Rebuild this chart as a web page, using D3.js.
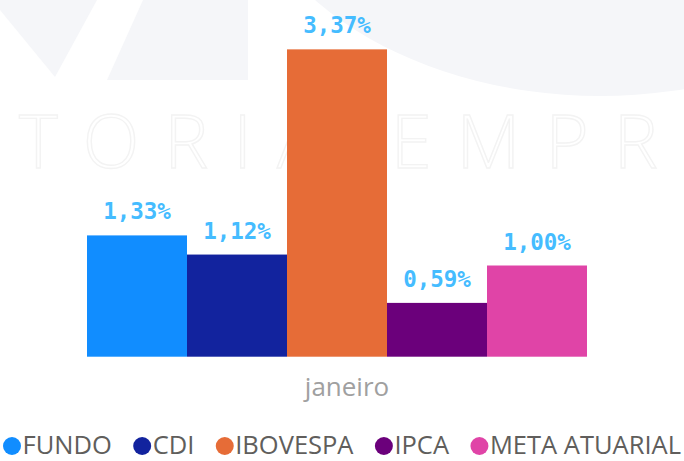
<!DOCTYPE html>
<html>
<head>
<meta charset="utf-8">
<script src="https://cdn.jsdelivr.net/npm/d3@7"></script>
<style>
  html, body { margin: 0; padding: 0; background: #ffffff; }
  svg { display: block; }
</style>
</head>
<body>
<svg id="chart" width="684" height="461"></svg>
<script>
// ---- data ----
const categories = ["janeiro"];
const seriesNames = ["FUNDO", "CDI", "IBOVESPA", "IPCA", "META ATUARIAL"];
const seriesValues = [1.33, 1.12, 3.37, 0.59, 1.00]; // % in janeiro
const seriesColors = ["#118DFF", "#12239E", "#E66C37", "#6B007B", "#E044A7"];

const W = 684, H = 461;
const svg = d3.select("#chart");

// ---- faint watermark background ----
const wm = svg.append("g").attr("class", "watermark");
const wmFill = "#f5f6f9";
const poly = d3.line();
wm.append("path").attr("d", poly([[0,0],[97,0],[55,77],[0,10]]) + "Z").attr("fill", wmFill);
wm.append("path").attr("d", poly([[143,0],[248,0],[248,80],[107,80]]) + "Z").attr("fill", wmFill);
wm.append("ellipse").attr("cx", 600).attr("cy", -160).attr("rx", 365).attr("ry", 256).attr("fill", wmFill);
wm.append("text")
  .attr("x", 19).attr("y", 168)
  .attr("font-family", "Open Sans, sans-serif")
  .attr("font-weight", 300)
  .attr("font-size", 74)
  .attr("letter-spacing", 25)
  .attr("fill", "none")
  .attr("stroke", "#f3f3f3")
  .attr("stroke-width", 1.4)
  .text("TORIA EMPR");

// ---- scales ----
const x0 = d3.scaleBand().domain(categories).range([87, 587]).paddingInner(0).paddingOuter(0);
const x1 = d3.scaleBand().domain(seriesNames).range([0, x0.bandwidth()]).padding(0);
const y = d3.scaleLinear().domain([0, 3.5]).range([356.7, 37.5]);

const fmt = v => d3.format(".2f")(v).replace(".", ",") + "%";

const rows = seriesNames.map((name, i) => ({ name, value: seriesValues[i], color: seriesColors[i] }));

const g = svg.append("g");
const cat = g.selectAll("g.cat").data(categories).join("g")
  .attr("class", "cat")
  .attr("transform", d => `translate(${x0(d)},0)`);

cat.selectAll("rect").data(rows).join("rect")
  .attr("x", d => x1(d.name))
  .attr("y", d => y(d.value))
  .attr("width", x1.bandwidth())
  .attr("height", d => y(0) - y(d.value))
  .attr("fill", d => d.color);

cat.selectAll("text.lbl").data(rows).join("text")
  .attr("class", "lbl")
  .attr("x", d => x1(d.name) + x1.bandwidth() / 2)
  .attr("y", d => y(d.value) - 16)
  .attr("text-anchor", "middle")
  .attr("font-family", "DejaVu Sans Mono, monospace")
  .attr("font-weight", "bold")
  .attr("font-size", 22.5)
  .attr("fill", "#45BCFF")
  .text(d => fmt(d.value));

// ---- x axis label ----
const xAxis = d3.axisBottom(x0).tickSize(0).tickPadding(0);
const axG = svg.append("g").attr("transform", `translate(10,396)`).call(xAxis);
axG.select(".domain").remove();
axG.selectAll("text")
  .attr("dy", 0).attr("y", 0)
  .attr("font-family", "Open Sans, sans-serif")
  .attr("font-size", 26)
  .attr("fill", "#a0a0a0");

// ---- legend ----
const leg = svg.append("g").attr("class", "legend");
const r = 9, gapCT = 1.5, fs = 25.5;
const left = 3, right = 681;
const items = leg.selectAll("g").data(rows).join("g");
items.append("circle").attr("r", r).attr("cy", 446).attr("fill", d => d.color);
const lt = items.append("text")
  .attr("y", 454)
  .attr("font-family", "Open Sans, sans-serif")
  .attr("font-size", fs)
  .attr("fill", "#605E5C")
  .text(d => d.name);
const widths = [];
lt.each(function() { widths.push(this.getComputedTextLength()); });
const itemGap = (right - left - d3.sum(widths) - rows.length * (2 * r + gapCT)) / (rows.length - 1);
let cx = left;
items.each(function(d, i) {
  const it = d3.select(this);
  it.select("circle").attr("cx", cx + r);
  it.select("text").attr("x", cx + 2 * r + gapCT);
  cx += 2 * r + gapCT + widths[i] + itemGap;
});
</script>
</body>
</html>
